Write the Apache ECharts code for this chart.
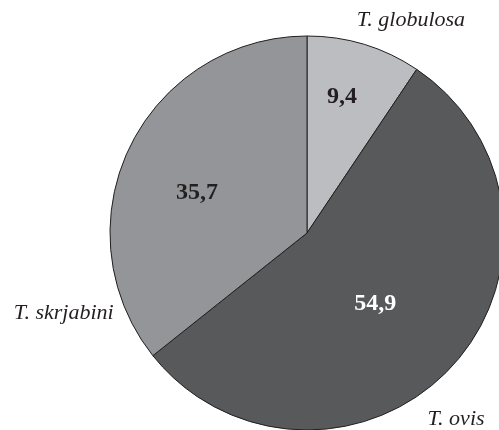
<!DOCTYPE html>
<html>
<head>
<meta charset="utf-8">
<script src="https://cdn.jsdelivr.net/npm/echarts@6/dist/echarts.min.js"></script>
<style>
html,body{margin:0;padding:0;background:#fff;}
#c{width:499px;height:430px;}
</style>
</head>
<body>
<div id="c"></div>
<script>
// Data
var categories = ['T. globulosa', 'T. ovis', 'T. skrjabini'];
var values = [9.4, 54.9, 35.7];
var valueLabels = ['9,4', '54,9', '35,7'];

// Styles / layout
var sliceColors = ['#bcbdc0', '#58595b', '#939598'];
var valueTextColors = ['#231f20', '#ffffff', '#231f20'];
var CX = 307, CY = 233, R = 197;
// polar label placement: [angle clockwise from top (deg), radius fraction]
var innerPos = [[14.4, 0.714], [136.1, 0.50], [290, 0.594]];
var outerPos = [[26, 1.203], [141.3, 1.21], [251.8, 1.30]];

function polar(p) {
  var a = p[0] * Math.PI / 180;
  return { x: CX + Math.sin(a) * R * p[1], y: CY - Math.cos(a) * R * p[1] };
}

var chart = echarts.init(document.getElementById('c'), null, { renderer: 'canvas' });

var mainData = categories.map(function (n, i) {
  return {
    name: n, value: values[i],
    itemStyle: { color: sliceColors[i] },
    label: { color: valueTextColors[i] }
  };
});
var nameData = categories.map(function (n, i) {
  return { name: n, value: values[i] };
});

chart.setOption({
  animation: false,
  backgroundColor: '#ffffff',
  series: [
    {
      type: 'pie',
      center: [CX, CY],
      radius: [0, R],
      startAngle: 90,
      clockwise: true,
      silent: true,
      data: mainData,
      itemStyle: { borderColor: '#231f20', borderWidth: 1 },
      label: {
        show: true,
        position: 'inside',
        fontFamily: '"Liberation Serif", serif',
        fontWeight: 'bold',
        fontSize: 24,
        formatter: function (p) { return valueLabels[p.dataIndex]; }
      },
      labelLine: { show: false },
      labelLayout: function (p) {
        var q = polar(innerPos[p.dataIndex]);
        return { x: q.x, y: q.y, align: 'center', verticalAlign: 'middle' };
      }
    },
    {
      type: 'pie',
      center: [CX, CY],
      radius: [0, R],
      startAngle: 90,
      clockwise: true,
      silent: true,
      data: nameData,
      itemStyle: { color: 'rgba(0,0,0,0)', borderWidth: 0 },
      label: {
        show: true,
        position: 'inside',
        fontFamily: '"Liberation Serif", serif',
        fontStyle: 'italic',
        fontSize: 22,
        color: '#231f20',
        formatter: '{b}'
      },
      labelLine: { show: false },
      labelLayout: function (p) {
        var q = polar(outerPos[p.dataIndex]);
        return { x: q.x, y: q.y, align: 'center', verticalAlign: 'middle' };
      }
    }
  ]
});
</script>
</body>
</html>
